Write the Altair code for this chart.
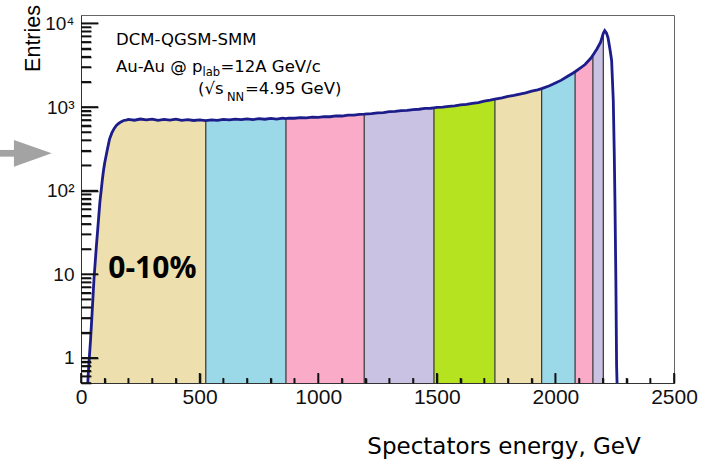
import altair as alt
import pandas as pd

# ---------------- data ----------------
energy = [0, 25, 30, 35, 40, 45, 50, 55, 60, 65, 70, 75, 80, 85, 90, 95, 100,
          110, 120, 130, 140, 150, 160, 170, 180, 190, 200,
          225, 250, 275, 300, 325, 350, 375, 400, 425, 450, 475, 500, 526,
          550, 575, 600, 625, 650, 675, 700, 725, 750, 775, 800, 825, 850, 864,
          875, 900, 925, 950, 975, 1000, 1025, 1050, 1075, 1100, 1125, 1150, 1175, 1194,
          1225, 1250, 1275, 1300, 1325, 1350, 1375, 1400, 1425, 1450, 1475, 1488,
          1500, 1525, 1550, 1575, 1600, 1625, 1650, 1675, 1700, 1725, 1745,
          1775, 1800, 1825, 1850, 1875, 1900, 1925, 1942,
          1975, 2000, 2025, 2050, 2075, 2083, 2100, 2125, 2150, 2158,
          2175, 2190, 2202, 2208, 2215, 2222, 2230, 2237, 2244, 2248, 2251, 2255,
          2258, 2262, 2500]
entries = [0.3, 0.3, 0.6, 1.0, 1.6, 2.8, 5, 9, 14, 22, 33, 50, 75, 100, 135, 175, 215,
           300, 410, 490, 555, 605, 640, 668, 690, 698, 712,
           695, 718, 702, 715, 693, 710, 698, 716, 694, 708, 690, 702, 686,
           703, 692, 712, 700, 716, 705, 722, 708, 726, 714, 730, 718, 735, 728,
           738, 734, 748, 742, 756, 752, 768, 765, 782, 780, 800, 798, 818, 822,
           835, 852, 858, 878, 885, 905, 910, 932, 940, 962, 966, 978,
           990, 998, 1020, 1032, 1058, 1076, 1108, 1130, 1172, 1205, 1240,
           1285, 1340, 1375, 1430, 1475, 1550, 1605, 1660,
           1795, 1935, 2095, 2320, 2550, 2640, 2860, 3220, 3850, 4170,
           4950, 5900, 7600, 8200, 7700, 6700, 4900, 3600, 1200, 300, 77, 8,
           0.8, 0.3, 0.3]

class_edges = [0, 526, 864, 1194, 1488, 1745, 1942, 2083, 2158, 2202]
class_names = ["0-10%", "10-20%", "20-30%", "30-40%", "40-50%",
               "50-60%", "60-70%", "70-80%", "80-90%"]
class_colors = ["#EDE0AE", "#9BD9E9", "#F9ABC8", "#C9C2E3", "#B5E320",
                "#EDE0AE", "#9BD9E9", "#F9ABC8", "#C9C2E3"]

x_major = [0, 500, 1000, 1500, 2000, 2500]
x_minor = [100, 200, 300, 400, 600, 700, 800, 900, 1100, 1200, 1300, 1400,
           1600, 1700, 1800, 1900, 2100, 2200, 2300, 2400]
y_major = [1, 10, 100, 1000, 10000]
y_major_labels = ["1", "10", "10²", "10³", "10⁴"]
y_minor = [0.5, 0.6, 0.7, 0.8, 0.9,
           2, 3, 4, 5, 6, 7, 8, 9,
           20, 30, 40, 50, 60, 70, 80, 90,
           200, 300, 400, 500, 600, 700, 800, 900,
           2000, 3000, 4000, 5000, 6000, 7000, 8000, 9000]

# ---------------- tables ----------------
hist = pd.DataFrame({"e": energy, "n": entries})

rows = []
for i, name in enumerate(class_names):
    lo, hi = class_edges[i], class_edges[i + 1]
    for e, n in zip(energy, entries):
        if lo <= e <= hi:
            rows.append({"e": e, "n": n, "cls": name})
areas = pd.DataFrame(rows)

bounds = pd.DataFrame({"e": class_edges[1:],
                       "n": [entries[energy.index(b)] for b in class_edges[1:]]})

W, H = 593, 368
TICK = "#111111"

label_expr = ""
for v, lab in zip(y_major, y_major_labels):
    label_expr += f"datum.value == {v} ? '{lab}' : "
label_expr += "''"

xs = alt.Scale(domain=[0, 2500], nice=False)
ys = alt.Scale(type="log", domain=[0.5, 12600], nice=False)

x_label_axis = alt.Axis(orient="bottom", values=x_major, format="d", ticks=False, grid=False,
                        title=None, domainColor="#333333", labelFont="Liberation Sans",
                        labelFontSize=21, labelColor="#111111", labelPadding=3, labelFlush=False)
y_label_axis = alt.Axis(orient="left", values=y_major, labelExpr=label_expr, ticks=False,
                        grid=False, title=None, domainColor="#333333",
                        labelFont="Liberation Sans", labelFontSize=19, labelColor="#111111",
                        labelPadding=7)
major_x_test = " || ".join(f"datum.value == {v}" for v in x_major)
major_y_test = " || ".join(f"datum.value == {v}" for v in y_major)
x_tick_axis = alt.Axis(orient="top", offset=-H, values=x_major + x_minor, labels=False,
                       domain=False, grid=False, title=None, ticks=True, tickColor=TICK,
                       tickWidth=1.6, zindex=2,
                       tickSize={"condition": {"test": major_x_test, "value": 10}, "value": 5})
y_tick_axis = alt.Axis(orient="right", offset=-W, values=y_major + y_minor, labels=False,
                       domain=False, grid=False, title=None, ticks=True, tickColor=TICK,
                       tickWidth=1.6, zindex=2,
                       tickSize={"condition": {"test": major_y_test, "value": 17}, "value": 10})

X_lab = alt.X("e:Q", scale=xs, axis=x_label_axis)
Y_lab = alt.Y("n:Q", scale=ys, axis=y_label_axis, stack=None)
X_tick = alt.X("e:Q", scale=xs, axis=x_tick_axis)
Y_tick = alt.Y("n:Q", scale=ys, axis=y_tick_axis, stack=None)
X_no = alt.X("e:Q", scale=xs, axis=None)
Y_no = alt.Y("n:Q", scale=ys, axis=None, stack=None)

area_layer = alt.Chart(areas).mark_area(clip=True, opacity=1).encode(
    x=X_lab, y=Y_lab, y2=alt.value(H),
    color=alt.Color("cls:N", scale=alt.Scale(domain=class_names, range=class_colors), legend=None),
    detail="cls:N",
)

bound_layer = alt.Chart(bounds).mark_rule(color="#333333", strokeWidth=1.2, clip=True).encode(
    x=X_no, y=Y_no, y2=alt.value(H)
)

line_layer = alt.Chart(hist).mark_line(color="#1C1C8A", strokeWidth=2.8, clip=True).encode(
    x=X_tick, y=Y_tick
)

xmaj_layer = alt.Chart(pd.DataFrame({"e": x_major})).mark_tick(
    orient="vertical", size=10, thickness=1.6, color=TICK, opacity=1
).encode(x=X_no, y=alt.value(H - 5))
xmin_layer = alt.Chart(pd.DataFrame({"e": x_minor})).mark_tick(
    orient="vertical", size=5, thickness=1.6, color=TICK, opacity=1
).encode(x=X_no, y=alt.value(H - 2.5))
ymaj_layer = alt.Chart(pd.DataFrame({"n": y_major})).mark_tick(
    orient="horizontal", size=17, thickness=1.6, color=TICK, opacity=1
).encode(y=Y_no, x=alt.value(8.5))
ymin_layer = alt.Chart(pd.DataFrame({"n": y_minor})).mark_tick(
    orient="horizontal", size=10, thickness=1.6, color=TICK, opacity=1
).encode(y=Y_no, x=alt.value(5))

def txt(s, x, y, size, font="DejaVu Sans", weight="normal", **kw):
    return alt.Chart(pd.DataFrame({"t": [s]})).mark_text(
        align=kw.get("align", "left"), baseline=kw.get("baseline", "alphabetic"),
        font=font, fontSize=size, fontWeight=weight, color="#000000",
        angle=kw.get("angle", 0), clip=False,
    ).encode(x=alt.value(x), y=alt.value(y), text="t:N")

texts = [
    txt("DCM-QGSM-SMM", 35, 30, 16.5),
    txt("Au-Au @ p", 35, 56.7, 16.5),
    txt("lab", 121.5, 61, 11.5),
    txt("=12A GeV/c", 139.5, 56.7, 16.5),
    txt("(√s", 117, 78.8, 16.5),
    txt("NN", 146, 86, 11.5),
    txt("=4.95 GeV)", 164, 78.8, 16.5),
    txt("0-10%", 27.3, 263.3, 30, font="Open Sans", weight="bold"),
    txt("Entries", -47.5, -10, 21.5, font="Liberation Sans", align="right",
        baseline="middle", angle=270),
    txt("Spectators energy, GeV", 423, 439.3, 23, align="center"),
]

arrow_head = alt.Chart(pd.DataFrame({"a": [0]})).mark_point(
    shape="M-1,-0.708L1,0L-1,0.708Z", size=1421, filled=True, color="#A3A3A3",
    opacity=1, clip=False
).encode(x=alt.value(-48.2), y=alt.value(138.3))
arrow_shaft = alt.Chart(pd.DataFrame({"a": [0]})).mark_rule(
    color="#A3A3A3", strokeWidth=6.7, clip=False
).encode(x=alt.value(-81), x2=alt.value(-64), y=alt.value(138.3))

chart = alt.layer(
    area_layer, bound_layer, line_layer,
    xmaj_layer, xmin_layer, ymaj_layer, ymin_layer,
    arrow_shaft, arrow_head, *texts
).resolve_axis(x="independent", y="independent").properties(
    width=W, height=H,
    autosize=alt.AutoSizeParams(type="none"),
    padding={"left": 81, "top": 15, "right": 34, "bottom": 81},
    background="white",
).configure_view(stroke="#666666", strokeWidth=1)

chart.save("out.html", embed_options={"renderer": "svg", "actions": False})
